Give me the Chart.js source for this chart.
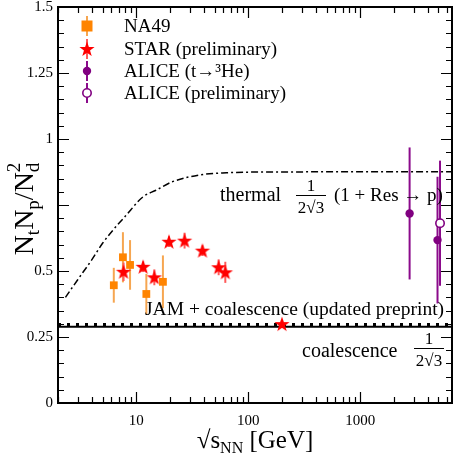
<!DOCTYPE html>
<html><head><meta charset="utf-8">
<script src="https://cdn.jsdelivr.net/npm/chart.js@4/dist/chart.umd.min.js"></script>
<style>html,body{margin:0;padding:0;background:#fff;}</style>
</head><body>
<canvas id="c" width="453" height="456"></canvas>
<script>
// ---- data ----
const na49Energy = [6.3, 7.6, 8.8, 12.3, 17.3];
const na49Ratio  = [0.446, 0.552, 0.523, 0.413, 0.459];
const na49Err    = [0.066, 0.095, 0.094, 0.076, 0.100];

const starEnergy = [7.7, 11.5, 14.5, 19.6, 27, 39, 54.4, 62.4, 200];
const starRatio  = [0.497, 0.516, 0.476, 0.611, 0.615, 0.577, 0.514, 0.495, 0.299];
const starErr    = [0.035, 0.020, 0.030, 0.020, 0.030, 0.020, 0.030, 0.040, 0.015];

const aliceEnergy = [2760, 4900];
const aliceRatio  = [0.718, 0.617];
const aliceErr    = [0.250, 0.240];

const alicePrelimEnergy = [5160];
const alicePrelimRatio  = [0.681];
const alicePrelimErr    = [0.237];

const thermalEnergy = [2.33, 3, 4, 5, 6.2, 8, 11.5, 15, 21, 37, 64, 150, 6600];
const thermalRatio  = [0.400, 0.467, 0.542, 0.605, 0.655, 0.708, 0.781, 0.806, 0.838, 0.864, 0.872, 0.875, 0.876];

const jamEnergy = [2, 6600];
const jamRatio  = [0.297, 0.297];
const coalEnergy = [2, 6600];
const coalRatio  = [0.289, 0.289];

const xRange = [2, 6600];
const yRange = [0, 1.5];
const xLabelTicks = [10, 100, 1000];
const yLabelTicks = [0, 0.25, 0.5, 1, 1.25, 1.5];

const seriesLabels = ['NA49', 'STAR (preliminary)', 'ALICE (t\u2192\u00B3He)', 'ALICE (preliminary)'];

// ---- helpers ----
const SERIF = "'Liberation Serif', 'Times New Roman', serif";
const toPts = (xs, ys) => xs.map((x, i) => ({x: x, y: ys[i]}));

function makeStar(r, color) {
  const s = Math.ceil(2 * r + 2);
  const c = document.createElement('canvas');
  c.width = s; c.height = s;
  const g = c.getContext('2d');
  g.fillStyle = color;
  g.beginPath();
  for (let i = 0; i < 10; i++) {
    const a = -Math.PI / 2 + i * Math.PI / 5;
    const rr = (i % 2) ? r * 0.40 : r;
    g.lineTo(s / 2 + rr * Math.cos(a), s / 2 + rr * Math.sin(a) + 0.5);
  }
  g.closePath();
  g.fill();
  return c;
}
const starImg = makeStar(8, '#ff0000');

const datasets = [
  {label: seriesLabels[0], data: toPts(na49Energy, na49Ratio), errors: na49Err, errColor: 'rgba(245,150,50,0.85)', errWidth: 2,
   pointStyle: 'rect', pointRadius: 5.5, backgroundColor: '#ff8400', borderColor: '#ff8400', borderWidth: 0, showLine: false},
  {label: seriesLabels[1], data: toPts(starEnergy, starRatio), errors: starErr, errColor: '#ff5a5a', errWidth: 2,
   pointStyle: starImg, pointRadius: 8, backgroundColor: '#ff0000', borderColor: '#ff0000', showLine: false},
  {label: seriesLabels[2], data: toPts(aliceEnergy, aliceRatio), errors: aliceErr, errColor: '#8b0a8b', errWidth: 2,
   pointStyle: 'circle', pointRadius: 4.2, backgroundColor: '#800080', borderColor: '#800080', borderWidth: 0, showLine: false},
  {label: seriesLabels[3], data: toPts(alicePrelimEnergy, alicePrelimRatio), errors: alicePrelimErr, errColor: '#8b0a8b', errWidth: 2,
   pointStyle: 'circle', pointRadius: 4.2, backgroundColor: '#ffffff', borderColor: '#800080', borderWidth: 1.6, showLine: false},
  {label: 'thermal', data: toPts(thermalEnergy, thermalRatio), showLine: true, pointRadius: 0,
   borderColor: '#000', borderWidth: 1.5, borderDash: [7, 3, 2, 3], cubicInterpolationMode: 'monotone', fill: false},
  {label: 'JAM', data: toPts(jamEnergy, jamRatio), showLine: true, pointRadius: 0,
   borderColor: '#000', borderWidth: 3, borderDash: [3, 6], borderCapStyle: 'butt', fill: false},
  {label: 'coal', data: toPts(coalEnergy, coalRatio), showLine: true, pointRadius: 0,
   borderColor: '#000', borderWidth: 2, fill: false}
];

// error bars, drawn beneath markers
const errorBars = {
  id: 'errorBars',
  beforeDatasetsDraw(chart) {
    const {ctx, scales: {x, y}, chartArea} = chart;
    ctx.save();
    ctx.beginPath();
    ctx.rect(chartArea.left, chartArea.top, chartArea.right - chartArea.left, chartArea.bottom - chartArea.top);
    ctx.clip();
    chart.data.datasets.forEach(ds => {
      if (!ds.errors) return;
      ctx.strokeStyle = ds.errColor;
      ctx.lineWidth = ds.errWidth;
      ds.data.forEach((p, i) => {
        const px = x.getPixelForValue(p.x);
        ctx.beginPath();
        ctx.moveTo(px, y.getPixelForValue(p.y - ds.errors[i]));
        ctx.lineTo(px, y.getPixelForValue(p.y + ds.errors[i]));
        ctx.stroke();
      });
    });
    ctx.restore();
  }
};

function drawFrac(ctx, cx, barY, num, den, size, halfW) {
  ctx.save();
  ctx.fillStyle = '#000';
  ctx.strokeStyle = '#000';
  ctx.lineWidth = 1;
  ctx.textAlign = 'center';
  ctx.textBaseline = 'alphabetic';
  ctx.font = size + 'px ' + SERIF;
  ctx.fillText(num, cx, barY - 4);
  ctx.fillText(den, cx, barY + size + 1);
  ctx.beginPath();
  ctx.moveTo(cx - halfW, barY + 0.5);
  ctx.lineTo(cx + halfW, barY + 0.5);
  ctx.stroke();
  ctx.restore();
}

const frameAndText = {
  id: 'frameAndText',
  afterDraw(chart) {
    const {ctx, scales: {x, y}, chartArea: ca} = chart;
    ctx.save();
    // ticks (inward, mirrored)
    ctx.strokeStyle = '#000';
    ctx.lineWidth = 1.2;
    for (let d = 0; d <= 4; d++) {
      for (let m = 1; m <= 9; m++) {
        const v = m * Math.pow(10, d);
        if (v < xRange[0] || v > xRange[1]) continue;
        const px = Math.round(x.getPixelForValue(v)) + 0.5;
        const len = m === 1 ? 11 : 6;
        ctx.beginPath();
        ctx.moveTo(px, ca.bottom); ctx.lineTo(px, ca.bottom - len);
        ctx.moveTo(px, ca.top); ctx.lineTo(px, ca.top + len);
        ctx.stroke();
      }
    }
    for (let k = 0; k <= 30; k++) {
      const v = k * 0.05;
      const py = Math.round(y.getPixelForValue(v)) + 0.5;
      const len = k % 5 === 0 ? 11 : 6;
      ctx.beginPath();
      ctx.moveTo(ca.left, py); ctx.lineTo(ca.left + len, py);
      ctx.moveTo(ca.right, py); ctx.lineTo(ca.right - len, py);
      ctx.stroke();
    }
    // frame
    ctx.lineWidth = 2;
    ctx.strokeRect(ca.left, ca.top, ca.right - ca.left, ca.bottom - ca.top);

    // legend
    const lx = 87, tx = 124;
    const rows = [26, 49, 71, 93];
    ctx.textBaseline = 'middle';
    ctx.textAlign = 'left';
    ctx.font = '19px ' + SERIF;
    chart.data.datasets.slice(0, 4).forEach((ds, i) => {
      const ry = rows[i];
      ctx.strokeStyle = ds.errColor;
      ctx.lineWidth = ds.errWidth;
      ctx.beginPath(); ctx.moveTo(lx, ry - 10); ctx.lineTo(lx, ry + 10); ctx.stroke();
      if (ds.pointStyle === 'rect') {
        ctx.fillStyle = ds.backgroundColor;
        ctx.fillRect(lx - 5.5, ry - 5.5, 11, 11);
      } else if (ds.pointStyle === 'circle') {
        ctx.beginPath(); ctx.arc(lx, ry, ds.pointRadius, 0, Math.PI * 2);
        ctx.fillStyle = ds.backgroundColor; ctx.fill();
        if (ds.borderWidth) { ctx.lineWidth = ds.borderWidth; ctx.strokeStyle = ds.borderColor; ctx.stroke(); }
      } else {
        ctx.drawImage(ds.pointStyle, lx - ds.pointStyle.width / 2, ry - ds.pointStyle.height / 2);
      }
      ctx.fillStyle = '#000';
      ctx.fillText(ds.label, tx, ry + 1);
    });

    // annotations
    ctx.textBaseline = 'alphabetic';
    ctx.fillStyle = '#000';
    ctx.font = '20px ' + SERIF;
    ctx.fillText('thermal', 220, 201);
    drawFrac(ctx, 311, 195, '1', '2\u221A3', 17, 15);
    ctx.font = '19px ' + SERIF;
    ctx.textAlign = 'left';
    ctx.fillText('(1 + Res \u2192 p)', 334, 201);

    ctx.font = '19.5px ' + SERIF;
    ctx.fillText('JAM + coalescence (updated preprint)', 145, 315);

    ctx.font = '20px ' + SERIF;
    ctx.fillText('coalescence', 302, 357);
    drawFrac(ctx, 429, 348, '1', '2\u221A3', 17, 15);

    // x-axis title: sqrt(s_NN) [GeV]
    ctx.textAlign = 'left';
    const big = '25px ' + SERIF, small = '16px ' + SERIF;
    ctx.font = big; const w1 = ctx.measureText('\u221As').width;
    ctx.font = small; const w2 = ctx.measureText('NN').width;
    ctx.font = big; const w3 = ctx.measureText(' [GeV]').width;
    let sx = (ca.left + ca.right) / 2 - (w1 + w2 + w3) / 2;
    const by = 448;
    ctx.font = big; ctx.fillText('\u221As', sx, by); sx += w1;
    ctx.font = small; ctx.fillText('NN', sx, by + 5); sx += w2;
    ctx.font = big; ctx.fillText(' [GeV]', sx, by);

    // y-axis title: N_t N_p / N_d^2
    ctx.save();
    ctx.translate(33, 209);
    ctx.rotate(-Math.PI / 2);
    const Y1 = '28px ' + SERIF, Y2 = '19px ' + SERIF;
    const parts = [['N', Y1, 0], ['t', Y2, 6], ['N', Y1, 0], ['p', Y2, 6], ['/', Y1, 0], ['N', Y1, 0], ['d', Y2, 6]];
    let tot = 0;
    parts.forEach(p => { ctx.font = p[1]; tot += ctx.measureText(p[0]).width; });
    let cx = -tot / 2;
    let dx = 0;
    parts.forEach(p => {
      ctx.font = p[1];
      if (p[0] === 'd') dx = cx;
      ctx.fillText(p[0], cx, p[2]);
      cx += ctx.measureText(p[0]).width;
    });
    ctx.font = Y2;
    ctx.fillText('2', dx, -13);
    ctx.restore();

    ctx.restore();
  }
};

new Chart(document.getElementById('c'), {
  type: 'scatter',
  data: {datasets: datasets},
  options: {
    responsive: false,
    devicePixelRatio: 1,
    animation: false,
    layout: {autoPadding: false, padding: {top: 7, right: 1, left: 0, bottom: 0}},
    plugins: {legend: {display: false}, tooltip: {enabled: false}},
    scales: {
      x: {
        type: 'logarithmic', min: xRange[0], max: xRange[1],
        grid: {display: false, drawTicks: false}, border: {display: false},
        afterFit: s => { s.height = 53; s.paddingLeft = 0; s.paddingRight = 0; },
        afterBuildTicks: s => { s.ticks = xLabelTicks.map(v => ({value: v})); },
        ticks: {autoSkip: false, maxRotation: 0, padding: 9, color: '#000',
                font: {family: SERIF, size: 15},
                callback: v => xLabelTicks.includes(v) ? String(v) : ''}
      },
      y: {
        min: yRange[0], max: yRange[1],
        grid: {display: false, drawTicks: false}, border: {display: false},
        afterFit: s => { s.width = 58; s.paddingTop = 0; s.paddingBottom = 0; },
        afterBuildTicks: s => { s.ticks = yLabelTicks.map(v => ({value: v})); },
        ticks: {autoSkip: false, padding: 5, color: '#000',
                font: {family: SERIF, size: 15},
                callback: v => String(v)}
      }
    }
  },
  plugins: [errorBars, frameAndText]
});
</script>
</body></html>
